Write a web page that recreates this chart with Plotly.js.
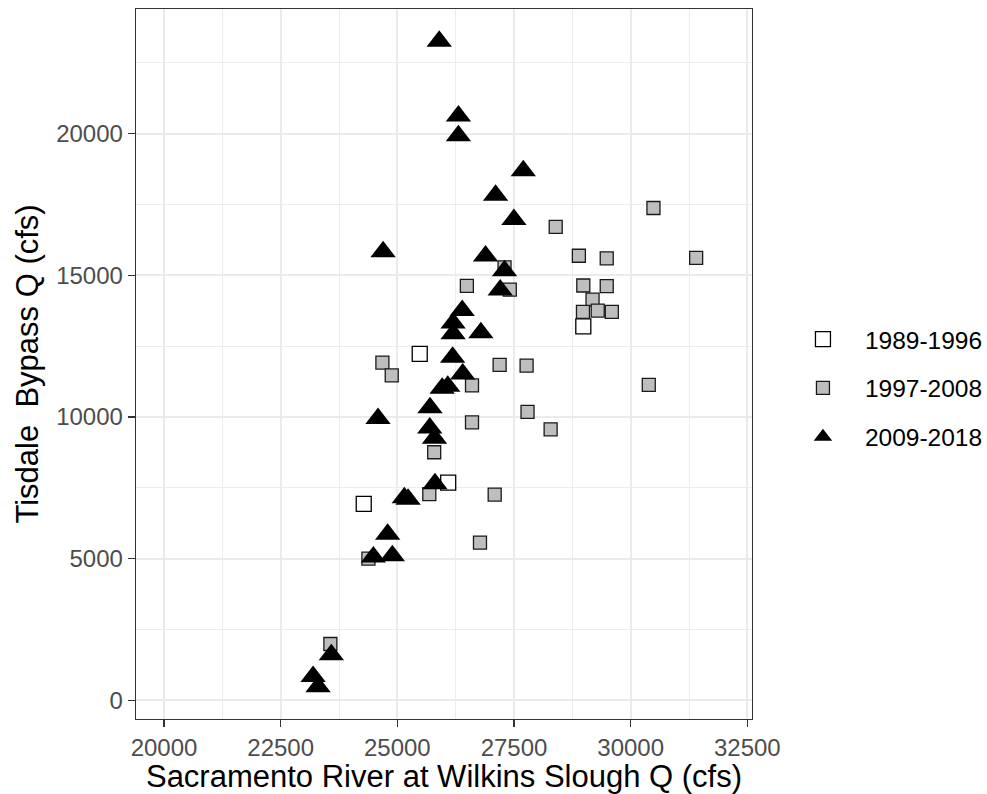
<!DOCTYPE html>
<html>
<head>
<meta charset="utf-8">
<script src="https://cdn.plot.ly/plotly-3.0.1.min.js"></script>
<style>html,body{margin:0;padding:0;background:#fff;}#chart{width:987px;height:794px;}</style>
</head>
<body>
<div id="chart"></div>
<script>
// Period names (legend)
const periods = ["1989-1996", "1997-2008", "2009-2018"];

// 1989-1996 (open squares)
const wilkinsQ_8996 = [25480, 28985, 24280, 26090];
const tisdaleQ_8996 = [12230, 13200, 6930, 7680];

// 1997-2008 (grey squares)
const wilkinsQ_9708 = [28394, 30488, 28890, 29487, 31403, 26490, 27410, 27297, 28985, 29487,
                       29183, 28978, 29294, 29596, 24680, 24880, 26600, 27192, 27770, 30388,
                       26600, 27790, 28285, 25790, 25685, 27086, 24380, 26771, 23565];
const tisdaleQ_9708 = [16707, 17377, 15690, 15600, 15615, 14625, 14495, 15280, 14640, 14617,
                       14145, 13708, 13755, 13708, 11920, 11470, 11115, 11840, 11815, 11135,
                       9810, 10178, 9563, 8755, 7280, 7262, 5000, 5565, 1987];

// 2009-2018 (black triangles)
const wilkinsQ_0918 = [25898, 26309, 26309, 27699, 27105, 27498, 24695, 26890, 27297, 27205,
                       26390, 26195, 26195, 26790, 26185, 26401, 26080, 25960, 25700, 24586,
                       25695, 25796, 25806, 25150, 25230, 24793, 24486, 24893, 23586, 23195, 23301];
const tisdaleQ_0918 = [23258, 20623, 19929, 18695, 17824, 16966, 15830, 15680, 15160, 14480,
                       13755, 13315, 12935, 12973, 12110, 11513, 11085, 11010, 10330, 9945,
                       9610, 9253, 7644, 7150, 7100, 5860, 5059, 5106, 1607, 842, 476];

// axis ticks
const xTicks = [20000, 22500, 25000, 27500, 30000, 32500];
const yTicks = [0, 5000, 10000, 15000, 20000];

const FONT = "Liberation Sans, Arial, sans-serif";

const traces = [
  {x: wilkinsQ_8996, y: tisdaleQ_8996, name: periods[0], legendgroup: "a", type: "scatter", mode: "markers",
   marker: {symbol: "square", size: 15, color: "#FFFFFF", line: {color: "#000000", width: 1.3}}},
  {x: wilkinsQ_9708, y: tisdaleQ_9708, name: periods[1], legendgroup: "b", type: "scatter", mode: "markers",
   marker: {symbol: "square", size: 13, color: "#BEBEBE", line: {color: "#1A1A1A", width: 1.3}}},
  {x: wilkinsQ_0918, y: tisdaleQ_0918, name: periods[2], legendgroup: "c", type: "scatter", mode: "markers",
   marker: {symbol: "triangle-up", size: 22, color: "#000000", line: {width: 0}}}
];

const axisCommon = {
  showline: true, mirror: true, linecolor: "#333333", linewidth: 1.3,
  ticks: "outside", ticklen: 7, tickwidth: 1.3, tickcolor: "#333333",
  showgrid: true, gridcolor: "#EBEBEB", gridwidth: 1.8, zeroline: false,
  tickfont: {family: FONT, size: 24, color: "#4D4D4D"}, tickformat: "d"
};

const layout = {
  width: 987, height: 794,
  margin: {l: 136, r: 235, t: 9, b: 75, autoexpand: false},
  paper_bgcolor: "#FFFFFF", plot_bgcolor: "#FFFFFF",
  font: {family: FONT},
  xaxis: Object.assign({}, axisCommon, {
    range: [19400, 32600], tickvals: xTicks, automargin: false,
    minor: {tickvals: [21250, 23750, 26250, 28750, 31250], showgrid: true, gridcolor: "#EBEBEB", gridwidth: 0.9, ticks: ""},
    title: {text: "Sacramento River at Wilkins Slough Q (cfs)", font: {family: FONT, size: 31, color: "#000000"}, standoff: 12}
  }),
  yaxis: Object.assign({}, axisCommon, {
    range: [-660, 24400], tickvals: yTicks, automargin: false,
    minor: {tickvals: [2500, 7500, 12500, 17500, 22500], showgrid: true, gridcolor: "#EBEBEB", gridwidth: 0.9, ticks: ""},
    title: {text: "Tisdale\u00A0 Bypass Q (cfs)", font: {family: FONT, size: 31, color: "#000000"}, standoff: 8}
  }),
  legend: {x: 1.047, xanchor: "left", y: 0.466, yanchor: "middle",
           font: {family: FONT, size: 24.5, color: "#000000"}, tracegroupgap: 14, itemwidth: 74,
           bgcolor: "rgba(0,0,0,0)"},
  showlegend: true
};

Plotly.newPlot("chart", traces, layout, {displayModeBar: false, staticPlot: true});
</script>
</body>
</html>
